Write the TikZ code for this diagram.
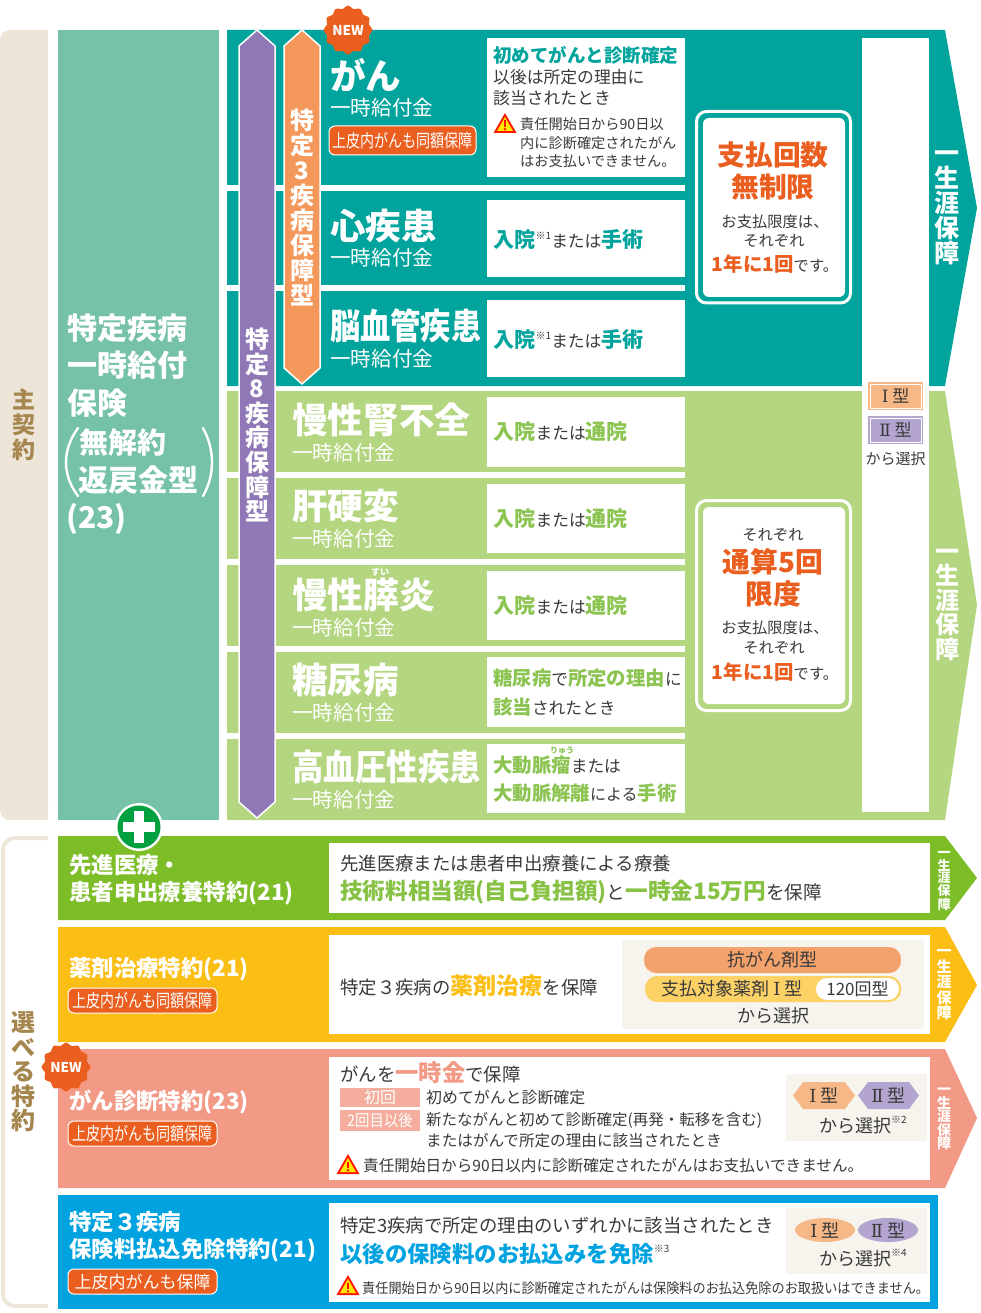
\documentclass[tikz,border=0pt]{standalone}
\usepackage{fontspec}
\setmainfont{Noto Sans CJK JP}
\newfontfamily\romf{DejaVu Serif}
\definecolor{tealc}{HTML}{00A49C}
\definecolor{leafc}{HTML}{B5D680}
\definecolor{leaft}{HTML}{8CC452}
\definecolor{mintc}{HTML}{76C2A6}
\definecolor{sandc}{HTML}{EDE5D8}
\definecolor{brownc}{HTML}{A5864E}
\definecolor{purpc}{HTML}{9078B6}
\definecolor{lilac}{HTML}{B4A4D0}
\definecolor{orngc}{HTML}{F3985A}
\definecolor{peach}{HTML}{F7B887}
\definecolor{burnt}{HTML}{EA5F1F}
\definecolor{inkc}{HTML}{3A3A3A}
\definecolor{grasc}{HTML}{7DBD28}
\definecolor{ambrc}{HTML}{FBBE14}
\definecolor{salmc}{HTML}{F29A86}
\definecolor{salml}{HTML}{F5AE9D}
\definecolor{bluec}{HTML}{00A3E0}
\definecolor{creamc}{HTML}{F7F4EE}
\definecolor{pillc}{HTML}{FCD267}
\definecolor{plusc}{HTML}{00A040}
\newcommand\sz[1]{\fontsize{#1}{#1}\selectfont}
\newcommand\narrow[2]{\scalebox{#1}[1]{#2}}
\newcommand\hi[3]{{\color{#1}\sz{#2}\bfseries #3}}
\newcommand\nt[1]{\raisebox{0.45em}{\sz{10}\color{inkc}※#1}}
\tikzset{
	txt/.style={inner sep=0pt,anchor=west,text=inkc,font=\sz{#1}},
	head/.style={inner sep=0pt,anchor=west,text=white,font=\sz{#1}\bfseries},
	subhead/.style={inner sep=0pt,anchor=west,text=white,font=\sz{20.6}},
	mid/.style={inner sep=0pt,text=inkc,font=\sz{#1}},
	midbold/.style={inner sep=0pt,text=burnt,font=\sz{#1}\bfseries},
	vstack/.style 2 args={inner sep=0pt,align=center,text=white,font=\fontsize{#1}{#2}\selectfont\bfseries},
	tag/.style={fill=burnt,draw=white,line width=1pt,rounded corners=6pt},
	warn/.pic={
		\fill[red!80!orange,line join=round] (-11.5,9) -- (0,-11) -- (11.5,9) -- cycle;
		\fill[yellow!90!orange] (-8,7) -- (0,-7) -- (8,7) -- cycle;
		\fill[red!85!orange] (-1.3,-3.5) rectangle (1.3,3);
		\fill[red!85!orange] (0,5.2) circle (1.4);
	},
	newmark/.pic={
		\fill[burnt] plot[domain=0:352.5,samples=48,smooth cycle] (\x:{23+1.5*cos(12*\x)});
		\node[inner sep=0pt,text=white,font=\sz{13.5}\bfseries] (label) at (0,0) {NEW};
	}
}
\begin{document}
\begin{tikzpicture}[x=1pt,y=-1pt,line join=round,line cap=round]
	\useasboundingbox (0,0) rectangle (980,1313);
	% main contract
	\fill[sandc,rounded corners=10pt] (0,30) -- (48,30) -- (48,820) -- (0,820) -- cycle;
	\fill[sandc] (30,30) rectangle (48,820);
	\node[vstack={23}{25},text=brownc] (mainlabel) at (24,425) {主\\契\\約};
	\fill[mintc] (58,30) rectangle (219,820);
	\node[head=30] (maina) at (67,328) {特定疾病};
	\node[head=30] (mainb) at (67,365) {一時給付};
	\node[head=30] (mainc) at (67,403) {保険};
	\node[head=29] (maind) at (79,442) {無解約};
	\node[head=30] (maine) at (78,480) {返戻金型};
	\node[head=30] (mainf) at (66,519) {(23)};
	\draw[white,line width=2.4pt] (78,428) .. controls (62,450) and (62,475) .. (78,496);
	\draw[white,line width=2.4pt] (203,428) .. controls (215,450) and (215,475) .. (203,496);
	% big arrows
	\fill[tealc] (227,30) -- (945,30) -- (977,208) -- (945,386) -- (227,386) -- cycle;
	\fill[leafc] (227,391) -- (945,391) -- (977,605) -- (945,820) -- (227,820) -- cycle;
	\foreach \ya/\yb in {185/191,285/291,472/478,559/565,646/652,733/739}
		\fill[white] (227,\ya) rectangle (685,\yb);
	\foreach \ya/\yb in {38/177,200/277,300/377,397/467,484/553,571/640,657/727,744/813}
		\fill[white] (487,\ya) rectangle (685,\yb);
	\fill[white] (862,38) rectangle (929,812);
	% bars
	\draw[white,line width=1.5pt,fill=purpc] (257,30) -- (275,46) -- (275,802) -- (257,818) -- (239,802) -- (239,46) -- cycle;
	\draw[white,line width=1.5pt,fill=orngc] (302,30) -- (320,46) -- (320,368) -- (302,384) -- (284,368) -- (284,46) -- cycle;
	\node[vstack={24}{24.6}] (barpurple) at (257,425) {特\\定\\8\\疾\\病\\保\\障\\型};
	\node[vstack={24}{25}] (barorange) at (302,207) {特\\定\\3\\疾\\病\\保\\障\\型};
	\pic (newa) at (348,30) {newmark};
	% teal rows
	\node[head=35.6] (cancer) at (330,75) {がん};
	\node[subhead] (cancersub) at (330,108) {一時給付金};
	\draw[tag] (329,126) rectangle (476,155);
	\node[inner sep=0pt,text=white,font=\sz{18}] (cancertag) at (402.5,140.5) {\narrow{0.78}{上皮内がんも同額保障}};
	\node[head=35.6] (heart) at (330,226) {心疾患};
	\node[subhead] (heartsub) at (330,258) {一時給付金};
	\node[head=35.6] (brain) at (330,326) {\narrow{0.85}{脳血管疾患}};
	\node[subhead] (brainsub) at (330,359) {一時給付金};
	\node[txt=18.5] (cella) at (493,55) {\hi{tealc}{18.5}{初めてがんと診断確定}};
	\node[txt=16.8] (cellb) at (493,77) {以後は所定の理由に};
	\node[txt=16.8] (cellc) at (493,98) {該当されたとき};
	\pic at (505,124) {warn};
	\node[txt=14.2] (celld) at (520,124) {責任開始日から90日以};
	\node[txt=14.2] (celle) at (520,143) {内に診断確定されたがん};
	\node[txt=14.2] (cellf) at (520,161) {はお支払いできません。};
	\node[txt=16.7] (hearttxt) at (493.5,239) {\hi{tealc}{21}{入院}\nt{1}または\hi{tealc}{21}{手術}};
	\node[txt=16.7] (braintxt) at (493.5,339) {\hi{tealc}{21}{入院}\nt{1}または\hi{tealc}{21}{手術}};
	% light green rows
	\foreach \n/\yt/\ys/\lbl in {kidney/420/453/慢性腎不全,liver/506/539/肝硬変,pancreas/595/628/慢性膵炎,diabetes/680/713/糖尿病}{
		\node[head=35.6] (\n) at (292,\yt) {\lbl};
		\node[subhead] (\n sub) at (292,\ys) {一時給付金};
	}
	\node[head=35.6] (blood) at (292,767) {\narrow{0.885}{高血圧性疾患}};
	\node[subhead] (bloodsub) at (292,800) {一時給付金};
	\node[inner sep=0pt,text=white,font=\sz{9}\bfseries] (rubysui) at (380,572) {すい};
	\foreach \n/\y in {kidneytxt/432,livertxt/519,pancreastxt/606}
		\node[txt=16.7] (\n) at (493.5,\y) {\hi{leaft}{21}{入院}または\hi{leaft}{21}{通院}};
	\node[txt=16.7] (diabeta) at (493,678) {\hi{leaft}{19.4}{糖尿病}で\hi{leaft}{19.4}{所定の理由}に};
	\node[txt=16.7] (diabetb) at (493,707) {\hi{leaft}{19.4}{該当}されたとき};
	\node[txt=16.7] (bloodta) at (493,765) {\hi{leaft}{19.4}{大動脈瘤}または};
	\node[txt=16] (bloodtb) at (493,793) {\hi{leaft}{19.4}{大動脈解離}による\hi{leaft}{19.4}{手術}};
	\node[inner sep=0pt,text=leaft,font=\sz{8}\bfseries] (rubyryu) at (562,751) {りゅう};
	% limit boxes
	\draw[white,line width=3pt,rounded corners=10pt] (696.5,111.5) rectangle (850.5,303);
	\fill[white,rounded corners=6pt] (703,118) rectangle (845,297);
	\node[midbold=27.8] (limita) at (773,155) {支払回数};
	\node[midbold=27.8] (limitb) at (773,187) {無制限};
	\node[mid=15.3] (limitc) at (775,222) {お支払限度は、};
	\node[mid=15.3] (limitd) at (774,241) {それぞれ};
	\node[mid=15.3] (limite) at (775,264) {\hi{burnt}{19.4}{1年に1回}です。};
	\draw[white,line width=3pt,rounded corners=10pt] (696.5,500.5) rectangle (850.5,710.5);
	\fill[white,rounded corners=6pt] (703,507) rectangle (845,704);
	\node[mid=15.3] (capa) at (773,535) {それぞれ};
	\node[midbold=27.8] (capb) at (773,562) {通算5回};
	\node[midbold=27.8] (capc) at (773,594) {限度};
	\node[mid=15.3] (capd) at (775,628) {お支払限度は、};
	\node[mid=15.3] (cape) at (774,648) {それぞれ};
	\node[mid=15.3] (capf) at (775,672) {\hi{burnt}{19.4}{1年に1回}です。};
	% type chips
	\fill[peach] (868,382) rectangle (923,410);
	\draw[white,line width=0.7pt] (870,384) rectangle (921,408);
	\node[mid=17] (typeone) at (895.5,396) {{\romf Ⅰ} 型};
	\fill[lilac] (868,416) rectangle (923,444);
	\draw[white,line width=0.7pt] (870,418) rectangle (921,442);
	\node[mid=17] (typetwo) at (895.5,430) {{\romf Ⅱ} 型};
	\node[mid=15] (typesel) at (895.5,459) {から選択};
	\node[vstack={25}{25},text=white] (lifea) at (947,208) {一\\生\\涯\\保\\障};
	\node[vstack={24}{24.5},text=white] (lifeb) at (947,605) {一\\生\\涯\\保\\障};
	% riders
	\draw[sandc,line width=4pt,rounded corners=12pt,line cap=butt] (48,838) -- (3,838) -- (3,1306) -- (48,1306);
	\node[vstack={24}{24.5},text=brownc] (riderlabel) at (24,1072) {選\\べ\\る\\特\\約};
	\fill[grasc] (58,836) -- (945,836) -- (977,878) -- (945,920) -- (58,920) -- cycle;
	\fill[ambrc] (58,927) -- (945,927) -- (977,985) -- (945,1042) -- (58,1042) -- cycle;
	\fill[salmc] (58,1049) -- (945,1049) -- (977,1118) -- (945,1188) -- (58,1188) -- cycle;
	\fill[bluec] (58,1195) rectangle (938,1309);
	\fill[white] (329,843) rectangle (930,913);
	\fill[white] (329,935) rectangle (930,1034);
	\fill[white] (329,1057) rectangle (930,1180);
	\fill[white] (329,1203) rectangle (930,1302);
	\node[vstack={13}{12.3},text=white] (lifec) at (944,881) {一\\生\\涯\\保\\障};
	\node[vstack={15}{15.5},text=white] (lifed) at (944,985) {一\\生\\涯\\保\\障};
	\node[vstack={14}{13.5},text=white] (lifee) at (944,1119) {一\\生\\涯\\保\\障};
	% plus mark
	\fill[white] (139,827) circle (24);
	\fill[plusc] (139,827) circle (21.5);
	\fill[white] (134,811) rectangle (144,843);
	\fill[white] (123,822) rectangle (155,832);
	% rider 1
	\node[head=22.4] (ridera) at (69,865) {先進医療・};
	\node[head=22.4] (riderb) at (69,893) {患者申出療養特約(21)};
	\node[txt=18.4] (ridertxta) at (340,864) {先進医療または患者申出療養による療養};
	\node[txt=18.6] (ridertxtb) at (340,892) {\hi{leaft!70!grasc}{22.6}{技術料相当額(自己負担額)}と\hi{leaft!70!grasc}{22.6}{一時金15万円}を保障};
	% rider 2
	\node[head=22.4] (riderc) at (69,969) {薬剤治療特約(21)};
	\draw[tag] (68,988) rectangle (217,1013);
	\node[inner sep=0pt,text=white,font=\sz{18}] (ridertaga) at (142.5,1000.5) {\narrow{0.78}{上皮内がんも同額保障}};
	\node[txt=18.4] (ridertxtc) at (340,986) {特定３疾病の\hi{ambrc}{23}{薬剤治療}を保障};
	\fill[creamc] (622,940) rectangle (924,1029);
	\fill[orngc!90!white,rounded corners=12pt] (644,947) rectangle (901,973);
	\node[mid=18] (drugone) at (772.5,960) {抗がん剤型};
	\fill[pillc,rounded corners=12pt] (645,976) rectangle (901,1002);
	\fill[white,rounded corners=11pt] (816,978) rectangle (899,1000);
	\node[mid=18] (drugtwo) at (732,989) {支払対象薬剤 {\romf Ⅰ} 型};
	\node[mid=17] (drugthree) at (857.5,989) {120回型};
	\node[mid=18] (drugsel) at (773,1016) {から選択};
	% rider 3
	\pic (newb) at (66,1067) {newmark};
	\node[head=22.4] (riderd) at (69,1102) {がん診断特約(23)};
	\draw[tag] (68,1121) rectangle (217,1146);
	\node[inner sep=0pt,text=white,font=\sz{18}] (ridertagb) at (142.5,1133.5) {\narrow{0.78}{上皮内がんも同額保障}};
	\node[txt=18.4] (ridertxtd) at (340,1073) {がんを\hi{salmc}{23.3}{一時金}で保障};
	\fill[salml] (340,1088) rectangle (420,1107);
	\node[inner sep=0pt,text=white,font=\sz{16}] (chipfirst) at (380,1097.5) {初回};
	\fill[salml] (340,1110) rectangle (420,1131);
	\node[inner sep=0pt,text=white,font=\sz{16}] (chipnext) at (380,1120.5) {\narrow{0.9}{2回目以後}};
	\node[txt=15.9] (ridertxte) at (426,1097) {初めてがんと診断確定};
	\node[txt=15.5] (ridertxtf) at (426,1120) {新たながんと初めて診断確定(再発・転移を含む)};
	\node[txt=15.6] (ridertxtg) at (426,1141) {またはがんで所定の理由に該当されたとき};
	\pic at (348,1165) {warn};
	\node[txt=15.6] (ridertxth) at (363,1166) {責任開始日から90日以内に診断確定されたがんはお支払いできません。};
	\fill[creamc] (786,1074) rectangle (927,1141);
	\fill[peach] (793,1095.5) -- (803,1082) -- (845,1082) -- (855,1095.5) -- (845,1109) -- (803,1109) -- cycle;
	\node[mid=18] (hexone) at (824,1095.5) {{\romf Ⅰ} 型};
	\fill[lilac] (858,1095.5) -- (868,1082) -- (909,1082) -- (919,1095.5) -- (909,1109) -- (868,1109) -- cycle;
	\node[mid=18] (hextwo) at (888.5,1095.5) {{\romf Ⅱ} 型};
	\node[mid=18] (hexsel) at (863,1125) {から選択\nt{2}};
	% rider 4
	\node[head=22.4] (ridere) at (69,1222) {特定３疾病};
	\node[head=22.4] (riderf) at (69,1250) {保険料払込免除特約(21)};
	\draw[tag] (68,1269) rectangle (217,1294);
	\node[inner sep=0pt,text=white,font=\sz{17}] (ridertagc) at (142.5,1281.5) {上皮内がんも保障};
	\node[txt=18.4] (ridertxti) at (340,1226) {特定3疾病で所定の理由のいずれかに該当されたとき};
	\node[txt=22.4] (ridertxtj) at (340,1254) {\hi{bluec}{22.4}{以後の保険料のお払込みを免除}\nt{3}};
	\pic at (348,1286) {warn};
	\node[txt=14] (ridertxtk) at (362,1288) {\narrow{0.94}{責任開始日から90日以内に診断確定されたがんは保険料のお払込免除のお取扱いはできません。}};
	\fill[creamc] (786,1208) rectangle (927,1274);
	\fill[peach] (825,1230) ellipse (30 and 12);
	\node[mid=18] (ovalone) at (825,1230) {{\romf Ⅰ} 型};
	\fill[lilac] (888,1230) ellipse (30 and 12);
	\node[mid=18] (ovaltwo) at (888,1230) {{\romf Ⅱ} 型};
	\node[mid=18] (ovalsel) at (863,1258) {から選択\nt{4}};
\end{tikzpicture}
\end{document}
